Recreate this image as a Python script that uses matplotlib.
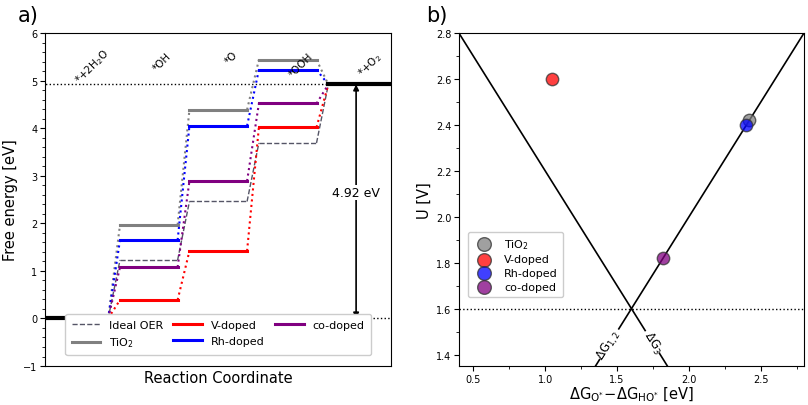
import matplotlib.pyplot as plt
import numpy as np
from matplotlib.ticker import MultipleLocator

plt.rcParams['mathtext.default'] = 'regular'

# free energy levels for the five OER states
states = [r'*+2H$_2$O', '*OH', '*O', '*OOH', r'*+O$_2$']
ideal = [0, 1.23, 2.46, 3.69, 4.92]
tio2 = [0, 1.97, 4.39, 5.44, 4.92]
v_doped = [0, 0.39, 1.42, 4.02, 4.92]
rh_doped = [0, 1.65, 4.05, 5.23, 4.92]
co_doped = [0, 1.08, 2.89, 4.52, 4.92]

# limiting potential data (dG_O - dG_HO, U)
names = [r'TiO$_2$', 'V-doped', 'Rh-doped', 'co-doped']
dg = [2.42, 1.05, 2.40, 1.82]
pot = [2.42, 2.60, 2.40, 1.82]
pcolors = ['gray', 'red', 'blue', 'purple']

fig = plt.figure(figsize=(8.08, 4.06), dpi=100)
ax1 = fig.add_axes([0.0557, 0.096, 0.428, 0.82])
ax2 = fig.add_axes([0.568, 0.096, 0.427, 0.82])

w = 0.83


def draw_path(ax, e, color, label, lw=2.2, conn=':', clw=1.5):
    for i in range(1, 4):
        ax.plot([i, i + w], [e[i], e[i]], color=color, lw=lw,
                label=label if i == 1 else None, ls='-' if conn == ':' else '--')
    for i in range(4):
        ax.plot([i + w, i + 1], [e[i], e[i + 1]], color=color, lw=clw, ls=conn)


draw_path(ax1, ideal, '#555566', 'Ideal OER', lw=1.0, conn='--', clw=1.0)
draw_path(ax1, tio2, 'gray', r'TiO$_2$')
draw_path(ax1, v_doped, 'red', 'V-doped')
draw_path(ax1, rh_doped, 'blue', 'Rh-doped')
draw_path(ax1, co_doped, 'purple', 'co-doped')

ax1.plot([-0.5, w], [0, 0], color='black', lw=3)
ax1.plot([4, 5.5], [4.92, 4.92], color='black', lw=3)
ax1.plot([-0.5, 4], [4.92, 4.92], color='black', lw=1, ls=':')
ax1.plot([w, 5.5], [0, 0], color='black', lw=1, ls=':')

ax1.annotate('', xy=(4.4, 4.92), xytext=(4.4, 0),
             arrowprops=dict(arrowstyle='<|-|>', color='black', lw=1.2,
                             mutation_scale=8, shrinkA=0, shrinkB=0))
ax1.text(4.4, 2.65, '4.92 eV', ha='center', va='center', fontsize=9,
         bbox=dict(fc='white', ec='none', pad=1))

label_y = [5.3, 5.4, 5.5, 5.35, 5.35]
for i, s in enumerate(states):
    ax1.text(i + 0.6, label_y[i], s, rotation=45, ha='center', va='center', fontsize=7.5)

ax1.set_xlim(-0.08, 4.9)
ax1.set_ylim(-1, 6)
ax1.set_xticks([])
ax1.yaxis.set_major_locator(MultipleLocator(1))
ax1.yaxis.set_minor_locator(MultipleLocator(0.2))
ax1.tick_params(axis='y', labelsize=7, pad=2)
ax1.set_ylabel('Free energy [eV]', fontsize=10.5, labelpad=4)
ax1.set_xlabel('Reaction Coordinate', fontsize=10.5, labelpad=3)
ax1.legend(ncol=3, loc='lower left', bbox_to_anchor=(0.043, 0.015, 0.915, 0.1),
           mode='expand', fontsize=8, handlelength=2.6, framealpha=1,
           borderpad=0.55, labelspacing=0.5)

# right panel: limiting potential lines
xs = np.array([0.4, 2.8])
ax2.plot(xs, xs, color='black', lw=1.2)
ax2.plot(xs, 3.2 - xs, color='black', lw=1.2)
ax2.axhline(1.6, color='black', lw=1, ls=':')
ang = np.degrees(np.arctan(229.8 / 143.5))
ax2.text(1.445, 1.445, r'$\Delta G_{1,2}$', rotation=ang, ha='center', va='center',
         fontsize=8.5, bbox=dict(fc='white', ec='none', pad=0.5))
ax2.text(1.745, 1.455, r'$\Delta G_3$', rotation=-ang, ha='center', va='center',
         fontsize=8.5, bbox=dict(fc='white', ec='none', pad=0.5))

for x, y, c, n in zip(dg, pot, pcolors, names):
    ax2.scatter(x, y, s=80, color=c, edgecolors='#333333', alpha=0.75, label=n, zorder=3)

ax2.set_xlim(0.4, 2.8)
ax2.set_ylim(1.35, 2.8)
ax2.xaxis.set_major_locator(MultipleLocator(0.5))
ax2.xaxis.set_minor_locator(MultipleLocator(0.25))
ax2.yaxis.set_major_locator(MultipleLocator(0.2))
ax2.yaxis.set_minor_locator(MultipleLocator(0.1))
ax2.tick_params(labelsize=7, pad=2)
ax2.set_ylabel('U [V]', fontsize=10.5, labelpad=3)
ax2.set_xlabel(r'$\Delta G_{O^{*}}\!-\!\Delta G_{HO^{*}}$ [eV]',
               fontsize=10.5, labelpad=1)
ax2.legend(loc='lower left', bbox_to_anchor=(0.01, 0.19), fontsize=8, framealpha=1,
           handletextpad=0.8, borderpad=0.45, labelspacing=0.35, markerscale=1.1)

fig.text(0.035, 0.96, 'a)', fontsize=15, ha='center', va='center')
fig.text(0.54, 0.96, 'b)', fontsize=15, ha='center', va='center')

fig.savefig('out.png', dpi=100)
